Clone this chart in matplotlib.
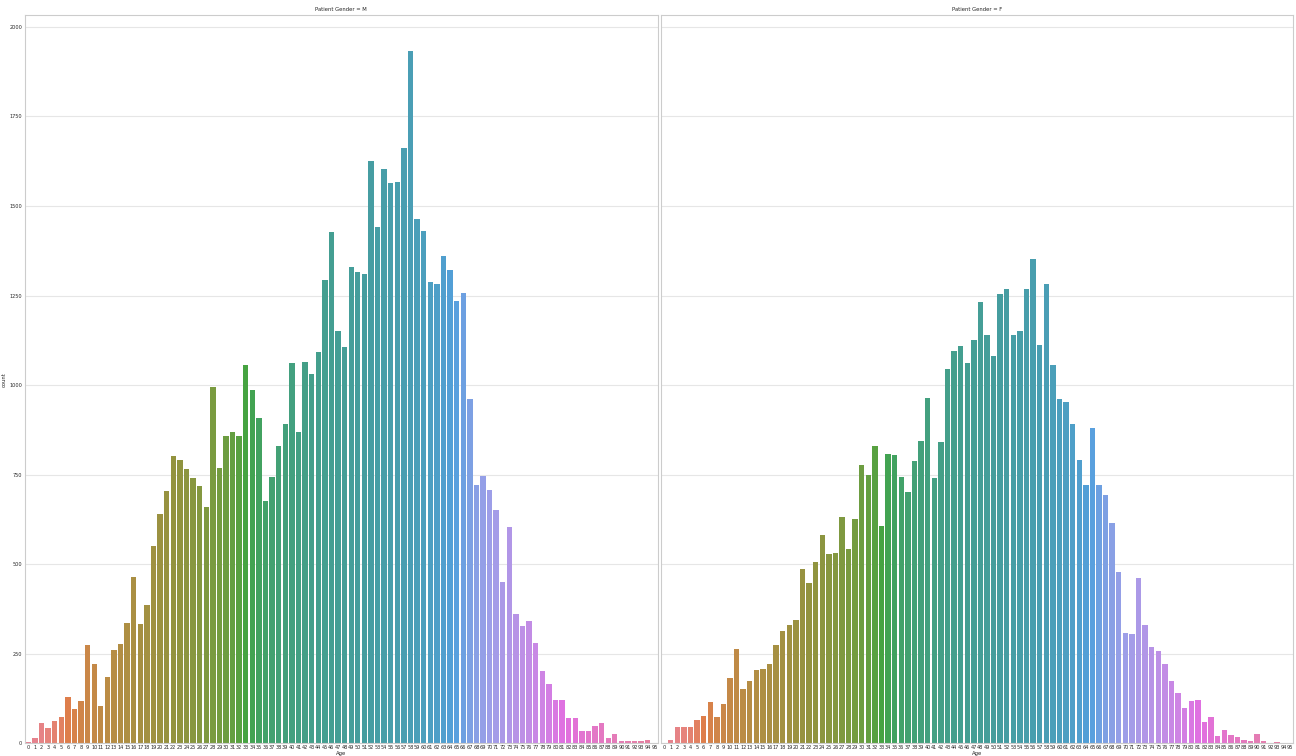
import matplotlib
matplotlib.use("Agg")
import matplotlib.pyplot as plt
import seaborn as sns
import numpy as np

# age categories 0..95
ages = list(range(96))

# counts per age
count_m = [4, 15, 57, 42, 61, 73, 129, 95, 117, 273,
           221, 104, 185, 261, 276, 336, 463, 333, 385, 550,
           641, 703, 803, 792, 765, 741, 719, 660, 994, 767,
           857, 870, 858, 1056, 987, 907, 677, 744, 830, 890,
           1062, 870, 1063, 1030, 1093, 1292, 1426, 1151, 1106, 1331,
           1316, 1309, 1626, 1441, 1602, 1565, 1568, 1662, 1933, 1463,
           1429, 1288, 1282, 1360, 1320, 1234, 1256, 960, 722, 746,
           707, 652, 451, 604, 362, 328, 342, 280, 201, 165,
           120, 120, 70, 70, 33, 33, 47, 56, 13, 25,
           6, 7, 6, 7, 8, 0]

count_f = [1, 10, 45, 45, 45, 66, 75, 114, 72, 110,
           183, 262, 152, 173, 203, 206, 221, 274, 312, 330,
           344, 487, 448, 505, 580, 529, 532, 632, 543, 626,
           776, 749, 831, 607, 808, 806, 744, 702, 788, 845,
           964, 740, 841, 1045, 1096, 1109, 1062, 1126, 1232, 1141,
           1080, 1254, 1269, 1141, 1151, 1269, 1352, 1113, 1282, 1056,
           960, 954, 890, 792, 720, 879, 722, 692, 614, 477,
           308, 304, 460, 331, 269, 256, 220, 173, 139, 98,
           119, 120, 59, 72, 19, 37, 23, 16, 9, 7,
           26, 5, 1, 4, 0, 0]

genders = ["M", "F"]

sns.set_style("whitegrid")
plt.rcParams['font.family'] = ['DejaVu Sans']

colors = sns.color_palette("husl", len(ages), desat=0.75)

fig, axes = plt.subplots(1, 2, figsize=(12.96, 7.56), dpi=100, sharey=True)
fig.subplots_adjust(left=0.0193, right=0.998, bottom=0.017, top=0.980, wspace=0.005)

for ax, g, counts in zip(axes, genders, [count_m, count_f]):
    ax.bar(ages, counts, width=0.82, color=colors, linewidth=0)
    ax.set_xlim(-0.5, len(ages) - 0.5)
    ax.set_ylim(0, 2033)
    ax.set_yticks(np.arange(0, 2001, 250))
    ax.set_xticks(ages)
    ax.set_xticklabels([str(a) for a in ages], fontsize=3.6)
    ax.tick_params(axis='y', labelsize=3.6, length=0, pad=2)
    ax.tick_params(axis='x', length=0, pad=1)
    ax.grid(axis='x', visible=False)
    ax.grid(axis='y', color='.9', linewidth=0.8)
    ax.set_axisbelow(True)
    for s in ax.spines.values():
        s.set_color('.8')
        s.set_linewidth(0.8)
    ax.set_title("Patient Gender = %s" % g, fontsize=3.8, pad=3)
    ax.set_xlabel("Age", fontsize=3.8, labelpad=1)

axes[0].set_ylabel("count", fontsize=3.8, labelpad=2)
axes[1].tick_params(axis='y', labelleft=False)

plt.savefig("out.png", dpi=100)
